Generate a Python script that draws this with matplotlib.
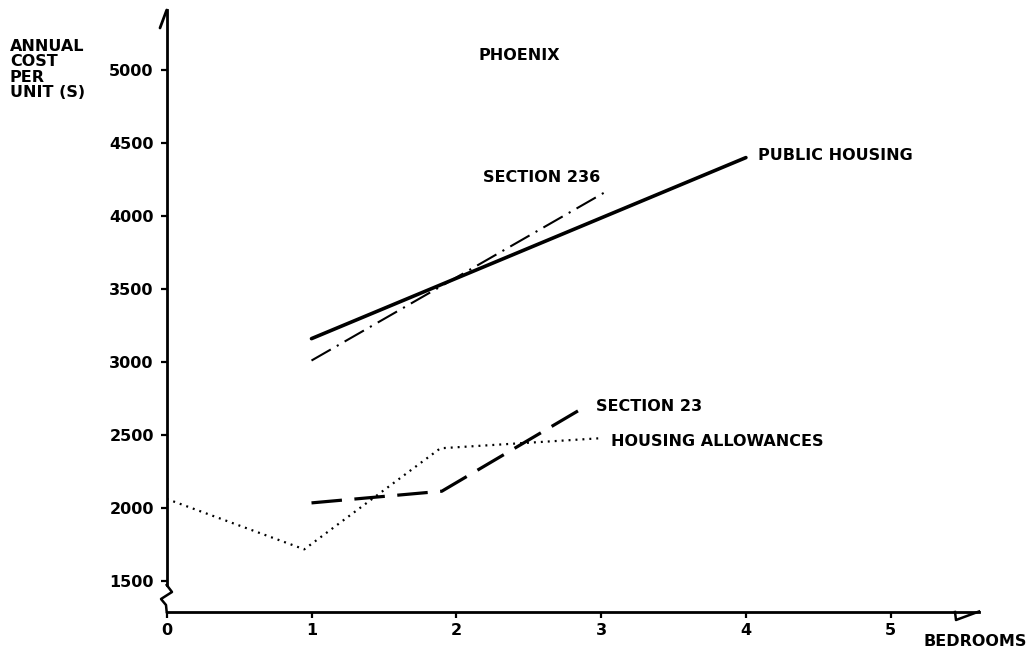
import matplotlib
matplotlib.use("Agg")
import matplotlib.pyplot as plt

# ---- data -------------------------------------------------------------
public_housing_x = [1, 4]
public_housing_y = [3160, 4400]

section_236_x = [1, 3.03]
section_236_y = [3010, 4165]

section_23_x = [1, 1.9, 2.9]
section_23_y = [2035, 2115, 2700]

allowances_x = [0, 0.95, 1.89, 2.98]
allowances_y = [2062, 1717, 2409, 2477]

x_ticks = [0, 1, 2, 3, 4, 5]
y_ticks = [1500, 2000, 2500, 3000, 3500, 4000, 4500, 5000]

# ---- figure -----------------------------------------------------------
W, H, DPI = 1029, 651, 100
plt.rcParams["font.family"] = ["DejaVu Sans"]
plt.rcParams["font.weight"] = "bold"
plt.rcParams["lines.scale_dashes"] = False

fig = plt.figure(figsize=(W / DPI, H / DPI), dpi=DPI)
fig.patch.set_facecolor("white")

# axes frame in pixels (left, top, right, bottom)
ax_l, ax_t, ax_r, ax_b = 166.7, 10, 979, 612
ax = fig.add_axes([ax_l / W, 1 - ax_b / H, (ax_r - ax_l) / W, (ax_b - ax_t) / H])
ax.set_facecolor("none")

px_per_x = 144.8
px_per_y = 0.146
y_ref_px, y_ref_val = 581, 1500
xmax = (ax_r - ax_l) / px_per_x
ymin = y_ref_val - (ax_b - y_ref_px) / px_per_y
ymax = y_ref_val + (y_ref_px - ax_t) / px_per_y
ax.set_xlim(0, xmax)
ax.set_ylim(ymin, ymax)

def px(x_pix, y_pix):
    """pixel position -> data coordinates"""
    return (x_pix - ax_l) / px_per_x, y_ref_val + (y_ref_px - y_pix) / px_per_y

ink = "black"

# series
ax.plot(public_housing_x, public_housing_y, color=ink, lw=2.6, solid_capstyle="round")
ax.plot(section_236_x, section_236_y, color=ink, lw=1.5, dashes=(16, 5, 1.5, 5))
ax.plot(section_23_x, section_23_y, color=ink, lw=2.3, dashes=(22, 9))
ax.plot(allowances_x, allowances_y, color=ink, lw=1.6, dashes=(1.4, 3.6))

# axes styling
for s in ("top", "right"):
    ax.spines[s].set_visible(False)
for s in ("left", "bottom"):
    ax.spines[s].set_linewidth(2.0)
ax.spines["left"].set_bounds(px(0, 585)[1], ymax)

fs = 11.5
ax.set_xticks(x_ticks)
ax.set_yticks(y_ticks)
ax.set_xticklabels([str(t) for t in x_ticks])
ax.set_yticklabels([str(t) for t in y_ticks])
ax.tick_params(axis="both", direction="out", length=4.3, width=1.6, labelsize=fs)
ax.tick_params(axis="y", pad=5)
ax.tick_params(axis="x", pad=3.5)
for lab in ax.get_xticklabels() + ax.get_yticklabels():
    lab.set_fontweight("bold")

# axis break on the value axis
brk = [px(166.7, 585), px(172, 592), px(161, 599), px(166, 605), px(166.7, 612)]
ax.plot([p[0] for p in brk], [p[1] for p in brk], color=ink, lw=1.8, clip_on=False)

# arrow barbs at the ends of the axes
top = [px(160, 28), px(166.7, 10)]
ax.plot([p[0] for p in top], [p[1] for p in top], color=ink, lw=2.0, clip_on=False,
        solid_capstyle="round")
right = [px(955, 612), px(956, 620), px(979, 611.5)]
ax.plot([p[0] for p in right], [p[1] for p in right], color=ink, lw=1.8, clip_on=False)

# labels
def label(x_pix, y_pix, text, **kw):
    x, y = px(x_pix, y_pix)
    ax.text(x, y, text, fontsize=fs, fontweight="bold", va="center", clip_on=False, **kw)

label(10, 46, "ANNUAL", ha="left")
label(10, 61.5, "COST", ha="left")
label(10, 77, "PER", ha="left")
label(10, 92.5, "UNIT (S)", ha="left")
label(519, 55, "PHOENIX", ha="center")
label(600, 177, "SECTION 236", ha="right")
label(758, 155, "PUBLIC HOUSING", ha="left")
label(596, 406, "SECTION 23", ha="left")
label(611, 442, "HOUSING ALLOWANCES", ha="left")
label(1027, 642, "BEDROOMS", ha="right")

fig.savefig("out.png", dpi=DPI, facecolor="white")
